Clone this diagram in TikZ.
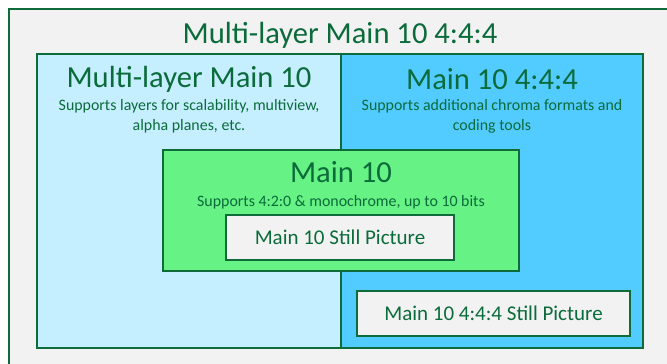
\documentclass[tikz,border=0pt]{standalone}
\usepackage{fontspec}
\setmainfont{Carlito}
\definecolor{edge}{HTML}{0E6B3A}
\definecolor{txt}{HTML}{0B6B3A}
\definecolor{outerfill}{HTML}{F2F2F2}
\definecolor{lblue}{HTML}{C5EEFF}
\definecolor{dblue}{HTML}{52CCFF}
\definecolor{lgreen}{HTML}{66F285}
\tikzset{
  box/.style={draw=edge, line width=2.6pt, rectangle},
  bigt/.style={text=txt, font=\fontsize{30.6}{32}\selectfont, inner sep=0pt},
  midt/.style={text=txt, font=\fontsize{21}{23}\selectfont, inner sep=0pt},
  smallt/.style={text=txt, font=\fontsize{15.9}{20}\selectfont, inner sep=0pt, align=center},
}
\begin{document}
\begin{tikzpicture}[x=1pt,y=-1pt]
\useasboundingbox (0,0) rectangle (667,364);
\clip (0,0) rectangle (667,364);
\fill[white] (0,0) rectangle (667,364);
\draw[box, fill=outerfill] (9,9) rectangle (680,380);
\node[bigt] (ttl) at (340,35) {Multi-layer Main 10 4:4:4};
\draw[box, fill=lblue] (37,54) rectangle (341,348);
\draw[box, fill=dblue] (341,54) rectangle (643,348);
\node[bigt] (mlt) at (189,79) {Multi-layer Main 10};
\node[smallt] (mls) at (189,116) {Supports layers for scalability, multiview,\\alpha planes, etc.};
\node[bigt] (m4t) at (492,79) {Main 10 4:4:4};
\node[smallt] (m4s) at (492,116) {Supports additional chroma formats and\\coding tools};
\draw[box, fill=lgreen] (163,150) rectangle (519,271);
\node[bigt] (m10t) at (341,172) {Main 10};
\node[smallt] (m10s) at (341,202) {Supports 4:2:0 \& monochrome, up to 10 bits};
\node[box, fill=outerfill, minimum width=228pt, minimum height=45pt, midt] (sp) at (340,237.5) {Main 10 Still Picture};
\node[box, fill=outerfill, minimum width=273pt, minimum height=45pt, midt] (sp4) at (493.5,313.5) {Main 10 4:4:4 Still Picture};
\end{tikzpicture}
\end{document}
